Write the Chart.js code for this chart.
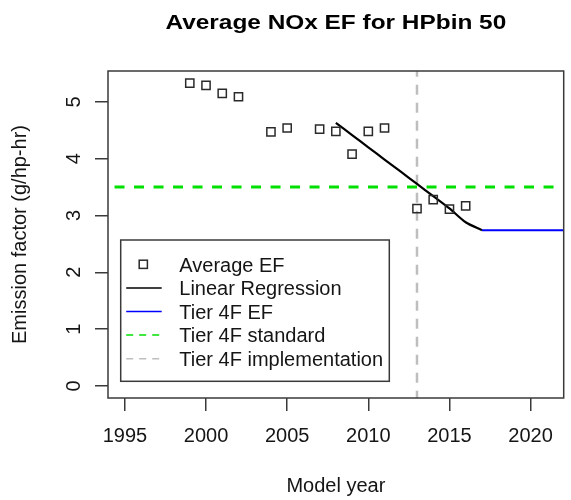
<!DOCTYPE html>
<html>
<head>
<meta charset="utf-8">
<script src="https://cdn.jsdelivr.net/npm/chart.js@4.4.1/dist/chart.umd.min.js"></script>
<style>
  html, body { margin: 0; padding: 0; background: #ffffff; }
  #wrap { width: 571px; height: 500px; }
</style>
</head>
<body>
<div id="wrap"><canvas id="c" width="571" height="500"></canvas></div>
<script>
// Average NOx emission factor by model year, HP bin 50
const modelYears = [1999, 2000, 2001, 2002, 2004, 2005, 2007, 2008, 2009, 2010, 2011, 2013, 2014, 2015, 2016];
const averageEf  = [5.33, 5.29, 5.15, 5.09, 4.47, 4.54, 4.52, 4.48, 4.08, 4.48, 4.54, 3.12, 3.28, 3.11, 3.17];

// Fitted regression line, levelling into the Tier 4F value
const regressionYears = [2008, 2009, 2010, 2011, 2012, 2013, 2014, 2015, 2016, 2017];
const regressionEf    = [4.63, 4.415, 4.20, 3.985, 3.77, 3.555, 3.34, 3.125, 2.88, 2.74];

// Tier 4F emission factor carried forward
const tier4fEfYears  = [2017, 2025];
const tier4fEfValues = [2.74, 2.74];

const tier4fStandard = 3.5;
const tier4fImplementationYear = 2013;

const xTicks = [1995, 2000, 2005, 2010, 2015, 2020];
const yTicks = [0, 1, 2, 3, 4, 5];

const seriesNames = ['Average EF', 'Linear Regression', 'Tier 4F EF', 'Tier 4F standard', 'Tier 4F implementation'];
const chartTitle = 'Average NOx EF for HPbin 50';

// axis limits padded by 4% on each side
const xRange = [1995, 2021];
const yRange = [0, Math.max(...averageEf)];
const pad = (r) => { const d = (r[1] - r[0]) * 0.04; return [r[0] - d, r[1] + d]; };
const xLim = pad(xRange);
const yLim = pad(yRange);

const FONT = '"Liberation Sans", Arial, Helvetica, sans-serif';
const INK = '#151515';
const FRAME = '#3a3a3a';

const zip = (xs, ys) => xs.map((x, i) => ({ x: x, y: ys[i] }));

const datasets = [
  {
    label: seriesNames[0],
    data: zip(modelYears, averageEf),
    showLine: false,
    pointStyle: 'rect',
    pointRadius: 5.8,
    pointHoverRadius: 5.8,
    pointBorderWidth: 1.5,
    pointBorderColor: '#2a2a2a',
    pointBackgroundColor: 'rgba(0,0,0,0)'
  },
  {
    label: seriesNames[1],
    data: zip(regressionYears, regressionEf),
    showLine: true,
    borderColor: '#000000',
    borderWidth: 2.2,
    pointRadius: 0,
    tension: 0.25,
    legendWidth: 1.5
  },
  {
    label: seriesNames[2],
    data: zip(tier4fEfYears, tier4fEfValues),
    showLine: true,
    borderColor: '#0000ff',
    borderWidth: 2.2,
    pointRadius: 0,
    legendWidth: 1.5
  },
  {
    label: seriesNames[3],
    data: [{ x: xLim[0] - 2, y: tier4fStandard }, { x: xLim[1] + 2, y: tier4fStandard }],
    showLine: true,
    borderColor: '#00e000',
    borderWidth: 3,
    borderDash: [10, 9.5],
    pointRadius: 0,
    legendWidth: 1.5,
    legendDash: [7, 6]
  },
  {
    label: seriesNames[4],
    data: [{ x: tier4fImplementationYear, y: yLim[0] - 1 }, { x: tier4fImplementationYear, y: yLim[1] + 1 }],
    showLine: true,
    borderColor: '#bebebe',
    borderWidth: 2.5,
    borderDash: [10, 8],
    pointRadius: 0,
    legendWidth: 1.5,
    legendDash: [7, 6]
  }
];

// plot frame around the data region
const framePlugin = {
  id: 'frame',
  afterDatasetsDraw(chart) {
    const a = chart.chartArea, ctx = chart.ctx;
    ctx.save();
    ctx.strokeStyle = FRAME;
    ctx.lineWidth = 1.5;
    ctx.strokeRect(a.left, a.top, a.right - a.left, a.bottom - a.top);
    ctx.restore();
  }
};

// heading, drawn slightly widened
const headingPlugin = {
  id: 'heading',
  afterDraw(chart) {
    const a = chart.chartArea, ctx = chart.ctx;
    ctx.save();
    ctx.fillStyle = '#000000';
    ctx.font = 'bold 20px ' + FONT;
    ctx.textAlign = 'center';
    ctx.textBaseline = 'alphabetic';
    ctx.translate((a.left + a.right) / 2, 29);
    ctx.scale(1.22, 1);
    ctx.fillText(chartTitle, 0, 0);
    ctx.restore();
  }
};

// boxed key in the lower left of the plot
const keyPlugin = {
  id: 'key',
  afterDraw(chart) {
    const a = chart.chartArea, ctx = chart.ctx;
    const bx = a.left + 12.7, by = a.top + 169, bw = 268.6, bh = 141.3;
    ctx.save();
    ctx.fillStyle = '#ffffff';
    ctx.fillRect(bx, by, bw, bh);
    ctx.strokeStyle = FRAME;
    ctx.lineWidth = 1.5;
    ctx.strokeRect(bx, by, bw, bh);
    ctx.font = '20px ' + FONT;
    ctx.textAlign = 'left';
    ctx.textBaseline = 'alphabetic';
    const sx0 = bx + 5.5, sx1 = bx + 41, sxc = bx + 22.6, tx = bx + 58.6;
    chart.data.datasets.forEach((ds, i) => {
      const base = by + 31.5 + i * 23.6;
      const cy = base - 7.2;
      if (ds.showLine === false) {
        const s = ds.pointRadius * Math.SQRT1_2;
        ctx.strokeStyle = ds.pointBorderColor;
        ctx.lineWidth = ds.pointBorderWidth;
        ctx.setLineDash([]);
        ctx.strokeRect(sxc - s, cy - s, 2 * s, 2 * s);
      } else {
        ctx.strokeStyle = ds.borderColor;
        ctx.lineWidth = ds.legendWidth;
        ctx.setLineDash(ds.legendDash || []);
        ctx.beginPath();
        ctx.moveTo(sx0, cy);
        ctx.lineTo(sx1, cy);
        ctx.stroke();
      }
      ctx.setLineDash([]);
      ctx.fillStyle = INK;
      ctx.fillText(ds.label, tx, base);
    });
    ctx.restore();
  }
};

new Chart(document.getElementById('c'), {
  type: 'scatter',
  data: { datasets: datasets },
  options: {
    responsive: false,
    animation: false,
    devicePixelRatio: 1,
    layout: { padding: { top: 71, right: 1, bottom: 0, left: 0 } },
    plugins: {
      legend: { display: false },
      title: { display: false },
      tooltip: { enabled: false }
    },
    scales: {
      x: {
        type: 'linear',
        min: xLim[0],
        max: xLim[1],
        afterBuildTicks: (s) => { s.ticks = xTicks.map(v => ({ value: v })); },
        afterFit: (s) => { s.height = 102; },
        border: { display: false },
        grid: { display: true, drawOnChartArea: false, drawTicks: true, tickLength: 13, color: FRAME, lineWidth: 1.5 },
        ticks: {
          autoSkip: false, maxRotation: 0, minRotation: 0, padding: 13,
          color: INK, font: { family: FONT, size: 20 },
          callback: (v) => String(v)
        },
        title: {
          display: true, text: 'Model year', color: INK,
          font: { family: FONT, size: 20 }, padding: { top: 0, bottom: 2 }
        }
      },
      y: {
        type: 'linear',
        min: yLim[0],
        max: yLim[1],
        afterBuildTicks: (s) => { s.ticks = yTicks.map(v => ({ value: v })); },
        afterFit: (s) => { s.width = 108; },
        border: { display: false },
        grid: { display: true, drawOnChartArea: false, drawTicks: true, tickLength: 13, color: FRAME, lineWidth: 1.5 },
        ticks: {
          autoSkip: false, minRotation: 90, maxRotation: 90, crossAlign: 'center', padding: 15,
          color: INK, font: { family: FONT, size: 20 },
          callback: (v) => String(v)
        },
        title: {
          display: true, text: 'Emission factor (g/hp-hr)', color: INK,
          font: { family: FONT, size: 20 }, padding: { top: 8, bottom: 0 }
        }
      }
    }
  },
  plugins: [framePlugin, headingPlugin, keyPlugin]
});
</script>
</body>
</html>
